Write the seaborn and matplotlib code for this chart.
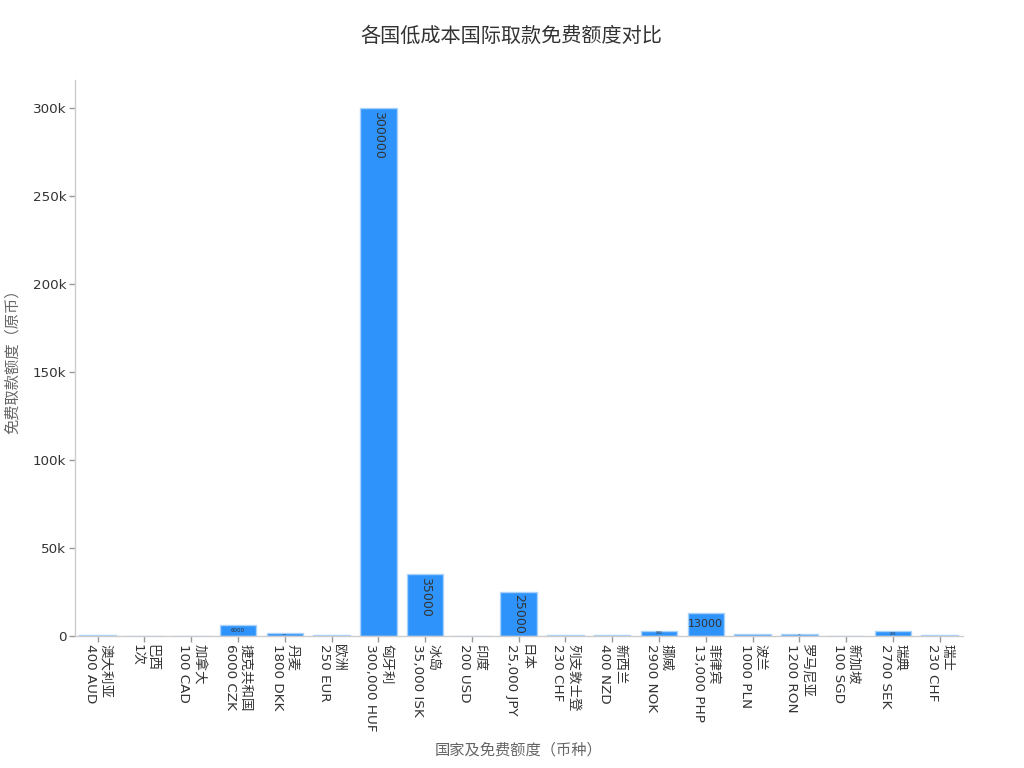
import pandas as pd
import numpy as np
import matplotlib.pyplot as plt
import seaborn as sns
from matplotlib.ticker import FuncFormatter

countries = ['澳大利亚', '巴西', '加拿大', '捷克共和国', '丹麦', '欧洲', '匈牙利', '冰岛', '印度', '日本',
             '列支敦士登', '新西兰', '挪威', '菲律宾', '波兰', '罗马尼亚', '新加坡', '瑞典', '瑞士']
limits = ['400 AUD', '1次', '100 CAD', '6000 CZK', '1800 DKK', '250 EUR', '300,000 HUF', '35,000 ISK',
          '200 USD', '25,000 JPY', '230 CHF', '400 NZD', '2900 NOK', '13,000 PHP', '1000 PLN',
          '1200 RON', '100 SGD', '2700 SEK', '230 CHF']
amounts = [400, 1, 100, 6000, 1800, 250, 300000, 35000, 200, 25000, 230, 400, 2900, 13000, 1000,
           1200, 100, 2700, 230]

sns.set_theme(style='white')
plt.rcParams['font.family'] = ['DejaVu Sans', 'Noto Sans CJK SC']

data = pd.DataFrame({'label': [c + '\n' + l for c, l in zip(countries, limits)], 'amount': amounts})

fig, ax = plt.subplots(figsize=(10.24, 7.68), dpi=100)
fig.subplots_adjust(left=0.073, right=0.94, top=0.896, bottom=0.172)

sns.barplot(data=data, x='label', y='amount', color='#2e93fa', saturation=1, width=0.78,
            edgecolor='#a9d2fb', linewidth=1, ax=ax)

ax.set_ylim(0, 316000)
ax.set_xlim(-0.49, len(amounts) - 0.51)
ax.yaxis.set_major_formatter(FuncFormatter(lambda v, p: '0' if v == 0 else f'{int(v / 1000)}k'))

# value labels inside bars
px_per_unit = (0.896 - 0.172) * 768 / 316000
for i, v in enumerate(amounts):
    h = v * px_per_unit
    if h >= 40:
        ax.text(i, v - 2.5 / px_per_unit, str(v), rotation=270, ha='center', va='top',
                fontsize=9, color='#333333')
    elif h >= 2:
        fs = min(8, h * 0.38)
        ax.text(i, v / 2, str(v), ha='center', va='center', fontsize=fs, color='#333333')

plt.setp(ax.get_xticklabels(), rotation=270, ha='center', va='top', multialignment='left',
         fontsize=9.7, color='#333333')
plt.setp(ax.get_yticklabels(), fontsize=9.7, color='#333333')
ax.tick_params(axis='both', which='major', length=4, width=1, color='#999999', bottom=True, left=True, pad=2)
for s in ['top', 'right']:
    ax.spines[s].set_visible(False)
for s in ['left', 'bottom']:
    ax.spines[s].set_color('#cccccc')
    ax.spines[s].set_linewidth(1)

ax.set_title('各国低成本国际取款免费额度对比', fontsize=14.5, color='#333333', pad=27, x=0.492)
ax.set_xlabel('国家及免费额度（币种）', fontsize=11, color='#666666', labelpad=8)
ax.set_ylabel('免费取款额度（原币）', fontsize=11, color='#666666', labelpad=9)

plt.savefig('out.png', dpi=100)
